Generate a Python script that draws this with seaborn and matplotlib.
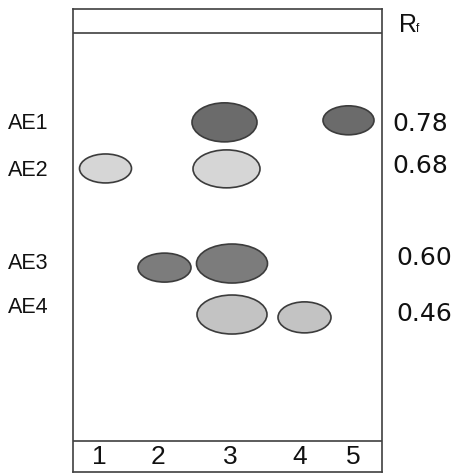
import matplotlib
matplotlib.use("Agg")
import matplotlib.pyplot as plt
from matplotlib.patches import Ellipse
import seaborn as sns
import pandas as pd

# ---- data ----
compounds = ["AE1", "AE2", "AE3", "AE4"]
rf_labels = ["0.78", "0.68", "0.60", "0.46"]
lanes = ["1", "2", "3", "4", "5"]
lane_pos = [26, 85, 157, 227, 280]          # lane positions across plate

spot_compound = ["AE1", "AE1", "AE2", "AE2", "AE3", "AE3", "AE4", "AE4"]
spot_lane = [3, 5, 1, 3, 2, 3, 3, 4]
spot_x = [151.5, 275.5, 32.5, 153.5, 91.5, 159.0, 159.0, 231.5]
spot_rf = [0.781, 0.786, 0.668, 0.667, 0.425, 0.435, 0.310, 0.303]
spot_w = [65, 51, 52, 67, 53, 71, 70, 53]
spot_h = [0.0956, 0.071, 0.071, 0.093, 0.071, 0.0956, 0.0956, 0.076]

label_rf = [0.777, 0.664, 0.434, 0.328]      # vertical placement of row labels
rf_text_pos = [0.778, 0.674, 0.449, 0.311]

spot_colors = {"AE1": "#6b6b6b", "AE2": "#d6d6d6", "AE3": "#7c7c7c", "AE4": "#c3c3c3"}

df = pd.DataFrame({"compound": spot_compound, "lane": spot_lane, "x": spot_x,
                   "rf": spot_rf, "w": spot_w, "h": spot_h})

sns.set_theme(style="white")
plt.rcParams["font.family"] = ["DejaVu Sans"]
narrow = ["Liberation Sans Narrow", "Liberation Sans", "DejaVu Sans"]

W, H = 456, 473
fig = plt.figure(figsize=(W / 100, H / 100), dpi=100)
left, right, top, bottom = 73, 382, 9, 472
ax = fig.add_axes([left / W, (H - bottom) / H, (right - left) / W, (bottom - top) / H])

origin_px, front_px = 441, 33
scale = origin_px - front_px
ax.set_xlim(0, right - left)
ax.set_ylim((origin_px - bottom) / scale, (origin_px - top) / scale)
ax.set_xticks([])
ax.set_yticks([])
ax.set_facecolor("white")
for s in ax.spines.values():
    s.set_color("#404040")
    s.set_linewidth(1.2)

# solvent front and origin lines
ax.axhline(1.0, color="#404040", lw=1.2)
ax.axhline(0.0, color="#404040", lw=1.2)

# spots
for _, r in df.iterrows():
    e = Ellipse((r["x"], r["rf"]), r["w"], r["h"], facecolor=spot_colors[r["compound"]],
                edgecolor="#3c3c3c", lw=1.2)
    ax.add_patch(e)

# lane numbers
for lx, lab in zip(lane_pos, lanes):
    ax.text(lx, (origin_px - 457) / scale, lab, ha="center", va="center",
            fontsize=19, color="#111111", family=narrow)

# compound labels (left)
for y, lab in zip(label_rf, compounds):
    ax.text(-65, y, lab, ha="left", va="center", fontsize=15.5, color="#111111",
            clip_on=False, family=narrow)

# Rf values (right)
for i, (y, lab) in enumerate(zip(rf_text_pos, rf_labels)):
    ax.text(right - left + (10 if i < 2 else 14), y, lab, ha="left", va="center",
            fontsize=18, color="#111111", clip_on=False)

# Rf header: big R with small f at the baseline
hx = right - left + 17
hy = (origin_px - 32) / scale
ax.text(hx, hy, "R", ha="left", va="baseline", fontsize=18, color="#111111",
        clip_on=False, family=narrow)
ax.text(hx + 17, hy, "f", ha="left", va="baseline", fontsize=8.5, color="#111111",
        clip_on=False, family=narrow)

fig.savefig("out.png", dpi=100)
